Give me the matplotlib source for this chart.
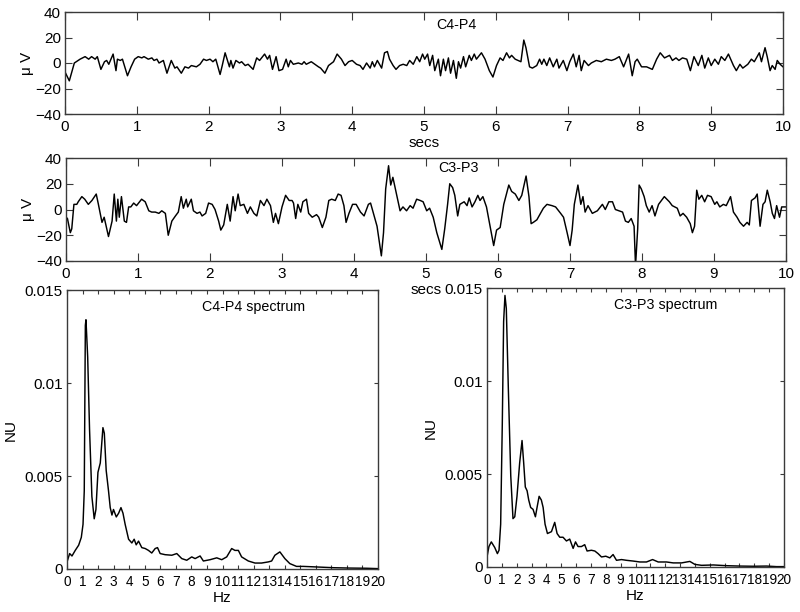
import matplotlib
matplotlib.use("Agg")
import matplotlib.pyplot as plt

plt.rcParams['font.family'] = ['Liberation Sans', 'DejaVu Sans']

# ---------------- data ----------------
c4_t = [0, 0.06, 0.13, 0.21, 0.28, 0.33, 0.37, 0.42, 0.45, 0.5, 0.55, 0.58, 0.61, 0.67, 0.71, 0.73, 0.77, 0.8,
        0.87, 0.92, 0.97, 1.02, 1.07, 1.1, 1.16, 1.21, 1.24, 1.28, 1.31, 1.37, 1.42, 1.48, 1.53, 1.56, 1.62, 1.67,
        1.72, 1.76, 1.83, 1.88, 1.93, 1.97, 2.02, 2.06, 2.1, 2.16, 2.19, 2.23, 2.29, 2.31, 2.34, 2.38, 2.43, 2.46,
        2.51, 2.55, 2.62, 2.67, 2.71, 2.78, 2.82, 2.85, 2.89, 2.94, 2.98, 3.03, 3.08, 3.11, 3.14, 3.18, 3.25, 3.3,
        3.33, 3.36, 3.43, 3.48, 3.53, 3.56, 3.62, 3.67, 3.74, 3.79, 3.85, 3.9, 3.95, 4.0, 4.06, 4.11, 4.15, 4.2,
        4.25, 4.28, 4.31, 4.35, 4.41, 4.45, 4.49, 4.52, 4.57, 4.61, 4.66, 4.71, 4.76, 4.8, 4.85, 4.9, 4.94, 4.98,
        5.01, 5.05, 5.08, 5.12, 5.15, 5.2, 5.23, 5.27, 5.3, 5.34, 5.37, 5.41, 5.45, 5.48, 5.51, 5.55, 5.58, 5.63,
        5.66, 5.7, 5.73, 5.8, 5.85, 5.91, 5.96, 6.01, 6.06, 6.1, 6.15, 6.19, 6.22, 6.27, 6.31, 6.35, 6.39, 6.42,
        6.47, 6.51, 6.57, 6.61, 6.64, 6.67, 6.71, 6.75, 6.8, 6.85, 6.88, 6.94, 6.99, 7.03, 7.08, 7.12, 7.16, 7.19,
        7.23, 7.29, 7.33, 7.4, 7.47, 7.54, 7.61, 7.66, 7.72, 7.78, 7.85, 7.9, 7.94, 7.97, 8.03, 8.1, 8.18, 8.24,
        8.29, 8.35, 8.42, 8.46, 8.51, 8.55, 8.6, 8.66, 8.71, 8.76, 8.82, 8.87, 8.91, 8.96, 9.0, 9.05, 9.1, 9.14,
        9.19, 9.24, 9.31, 9.35, 9.4, 9.44, 9.51, 9.56, 9.6, 9.67, 9.7, 9.75, 9.78, 9.82, 9.85, 9.89, 9.92, 9.96, 10.0]
c4_v = [-7, -14, 0, 3, 5, 3, 5, 3, 5, -5, 1, 2, -1, 7, -6, 3, 2, 3,
        -10, -3, 3, 5, 4, 5, 3, 4, 2, 3, 0, 2, -8, 2, -4, -3, -8, -3,
        -4, -2, -3, -1, 3, 2, 3, 1, 3, -9, -2, 8, -3, 2, -4, 2, 0, 1,
        -2, -1, -5, 4, 2, 7, 3, 6, -5, 5, -6, -5, 3, -3, 2, -1, 0, -1,
        1, -1, 1, -1, -3, -4, -8, -2, 1, 7, 3, -2, 1, 2, -1, -2, -5, 0,
        -4, 1, -3, 2, -4, 8, 9, 3, -2, -5, -2, -1, -2, 2, -1, 5, 1, 7,
        3, 7, -2, 6, -6, 3, -10, 3, -6, 4, -8, 2, -12, 1, -4, 5, -3, 6,
        2, 7, 3, 8, 3, -6, -11, -2, 4, 2, 8, 4, 6, 3, 2, 1, 18, 12,
        -3, -4, -2, 3, -1, 3, -2, 4, -3, 3, -4, 2, -6, 1, 7, -3, 6, -6,
        2, -2, 0, 2, 1, 3, 2, 3, 5, -3, 7, -10, 1, 3, -3, -3, -5, 3,
        8, 4, 6, 2, 4, 2, 4, 3, -6, 5, -2, 6, -4, 4, -2, 3, -1, 5,
        2, 7, -2, -6, -1, -4, -1, 3, 1, 8, 1, 12, 5, -6, -2, -5, 2, -1, -3]

c3_t = [0, 0.02, 0.06, 0.08, 0.11, 0.15, 0.17, 0.22, 0.26, 0.31, 0.36, 0.42, 0.45, 0.5, 0.53, 0.59, 0.64, 0.67,
        0.7, 0.72, 0.74, 0.77, 0.81, 0.84, 0.87, 0.9, 0.94, 0.98, 1.05, 1.1, 1.15, 1.19, 1.24, 1.29, 1.33, 1.38,
        1.42, 1.47, 1.52, 1.56, 1.6, 1.63, 1.67, 1.69, 1.74, 1.77, 1.82, 1.86, 1.89, 1.94, 1.98, 2.03, 2.07, 2.12,
        2.15, 2.19, 2.24, 2.28, 2.32, 2.35, 2.39, 2.42, 2.47, 2.52, 2.56, 2.61, 2.65, 2.7, 2.75, 2.79, 2.84, 2.88,
        2.91, 2.95, 3.0, 3.05, 3.1, 3.14, 3.16, 3.19, 3.22, 3.26, 3.29, 3.34, 3.37, 3.42, 3.48, 3.51, 3.56, 3.61,
        3.65, 3.69, 3.74, 3.78, 3.82, 3.86, 3.89, 3.93, 3.98, 4.03, 4.09, 4.14, 4.2, 4.23, 4.27, 4.32, 4.36, 4.38,
        4.41, 4.44, 4.48, 4.51, 4.54, 4.59, 4.64, 4.68, 4.73, 4.78, 4.82, 4.87, 4.92, 4.96, 5.01, 5.05, 5.1, 5.15,
        5.22, 5.26, 5.3, 5.33, 5.37, 5.4, 5.44, 5.47, 5.53, 5.57, 5.6, 5.64, 5.68, 5.72, 5.75, 5.79, 5.84, 5.88,
        5.94, 5.98, 6.03, 6.08, 6.15, 6.19, 6.24, 6.29, 6.33, 6.39, 6.43, 6.46, 6.49, 6.54, 6.59, 6.63, 6.68, 6.75,
        6.8, 6.87, 6.91, 6.96, 7.0, 7.03, 7.06, 7.11, 7.15, 7.18, 7.21, 7.25, 7.31, 7.38, 7.45, 7.49, 7.54, 7.59,
        7.63, 7.68, 7.73, 7.77, 7.81, 7.85, 7.89, 7.91, 7.94, 7.96, 7.99, 8.03, 8.06, 8.1, 8.14, 8.18, 8.23, 8.27,
        8.31, 8.38, 8.42, 8.49, 8.53, 8.57, 8.62, 8.67, 8.7, 8.73, 8.76, 8.79, 8.83, 8.87, 8.91, 8.96, 9.01, 9.04,
        9.08, 9.13, 9.17, 9.23, 9.27, 9.32, 9.36, 9.41, 9.46, 9.49, 9.52, 9.57, 9.6, 9.64, 9.68, 9.71, 9.74, 9.78,
        9.81, 9.84, 9.87, 9.91, 9.94, 10.0]
c3_v = [-6, -7, -18, -15, 4, 4, 6, 10, 8, 4, 7, 12, 4, -10, -6, -21, -9, 12,
        -9, 8, -6, 10, -9, -10, 2, 2, 5, 3, 8, 6, -1, -2, -2, -3, -1, -3,
        -20, -9, -5, -2, 10, 1, 8, 2, 8, -1, -3, -2, -5, -3, 5, 4, 0, -9,
        -16, -12, 4, -9, 10, -1, 12, 3, 4, -3, 2, -3, -5, 7, 3, 8, 3, -10,
        -3, -11, 2, 11, 7, 7, 5, -7, 4, -2, 6, 8, -3, -6, -4, -6, -14, -6,
        7, 8, 7, 12, 11, 3, -10, -3, 4, 4, -2, -5, 4, 5, -3, -13, -28, -36,
        -18, 16, 34, 19, 25, 12, -1, 2, -1, 3, 1, 8, 7, 6, -1, 1, -6, -18,
        -31, -15, 4, 20, 17, 11, -5, 4, 6, 3, 9, 2, 6, 11, 7, 10, 2, -10,
        -28, -16, -14, 4, 19, 14, 12, 7, 11, 26, 10, -11, -10, -8, -3, 1, 4, 3,
        2, -3, -6, -18, -28, -16, 4, 19, 4, 10, -2, 3, -3, -1, 4, 0, 6, 6,
        0, -1, -2, -9, -10, -7, -13, -44, -15, 19, 16, 10, 3, -2, 3, -5, 4, 7,
        10, 6, 3, 1, -5, -3, -6, -11, -18, -13, 15, 8, 11, 6, 11, 10, 4, 6,
        2, 4, 3, 10, -2, -6, -10, -13, -10, -12, 7, 9, 12, -13, 4, 6, 15, 6,
        -3, -7, 3, -6, 2, 2]

c4_f = [0, 0.17, 0.32, 0.53, 0.75, 0.92, 1.03, 1.11, 1.18, 1.22, 1.33, 1.45, 1.6, 1.75, 1.86, 1.99, 2.14, 2.31,
        2.4, 2.52, 2.67, 2.78, 2.89, 2.99, 3.17, 3.32, 3.47, 3.6, 3.74, 3.96, 4.17, 4.32, 4.45, 4.6, 4.81, 5.03,
        5.24, 5.45, 5.67, 5.82, 5.99, 6.31, 6.74, 7.06, 7.38, 7.7, 8.02, 8.24, 8.56, 8.77, 9.2, 9.63, 9.95, 10.27,
        10.59, 10.8, 11.02, 11.23, 11.66, 12.09, 12.51, 12.94, 13.16, 13.37, 13.69, 14.01, 14.33, 14.76, 15.19,
        16.04, 17.11, 18.18, 19.25, 20]
c4_p = [0.00038, 0.00083, 0.0007, 0.001, 0.00128, 0.0017, 0.0024, 0.0042, 0.0131, 0.0134, 0.0114, 0.0075,
        0.0039, 0.0027, 0.0032, 0.0052, 0.0057, 0.0076, 0.0073, 0.0053, 0.0042, 0.0033, 0.0029, 0.0032, 0.0028,
        0.003, 0.0033, 0.003, 0.0024, 0.0016, 0.0014, 0.0016, 0.0013, 0.0015, 0.00115, 0.0011, 0.001, 0.00086,
        0.0011, 0.00115, 0.00083, 0.00077, 0.00074, 0.00083, 0.00056, 0.00047, 0.00065, 0.00056, 0.0007, 0.00043,
        0.0005, 0.0006, 0.0005, 0.00065, 0.0011, 0.001, 0.001, 0.00065, 0.00043, 0.00032, 0.00032, 0.00038,
        0.00043, 0.00074, 0.00092, 0.00056, 0.00029, 0.00014, 0.00014, 0.00011, 0.00007, 0.00005, 0.00004, 0.00002]

c3_f = [0, 0.13, 0.29, 0.52, 0.7, 0.81, 0.92, 1.03, 1.12, 1.21, 1.3, 1.44, 1.6, 1.75, 1.87, 2.02, 2.2, 2.36,
        2.47, 2.58, 2.7, 2.81, 2.94, 3.1, 3.26, 3.37, 3.51, 3.66, 3.78, 3.91, 4.07, 4.34, 4.56, 4.72, 4.9, 5.12,
        5.35, 5.57, 5.8, 5.96, 6.13, 6.36, 6.58, 6.74, 7.03, 7.26, 7.48, 7.71, 8.0, 8.27, 8.49, 8.72, 9.06, 9.39,
        9.84, 10.29, 10.74, 11.15, 11.53, 12.09, 12.54, 13.1, 13.66, 14.0, 14.45, 15.24, 16.13, 17.03, 17.93,
        18.83, 19.5, 20]
c3_p = [0.00054, 0.0011, 0.00135, 0.00105, 0.00072, 0.0009, 0.0023, 0.0077, 0.0132, 0.0146, 0.0139, 0.0095,
        0.0049, 0.0026, 0.0027, 0.0038, 0.0056, 0.0068, 0.0056, 0.0043, 0.0041, 0.0036, 0.0032, 0.0031, 0.0027,
        0.0032, 0.0038, 0.0036, 0.0032, 0.0023, 0.0018, 0.0019, 0.0024, 0.0018, 0.0016, 0.0016, 0.0014, 0.0015,
        0.001, 0.00135, 0.0011, 0.0011, 0.0012, 0.00086, 0.0009, 0.00086, 0.00072, 0.00054, 0.00058, 0.00049,
        0.00067, 0.00036, 0.0004, 0.00036, 0.00032, 0.00027, 0.00027, 0.0004, 0.00027, 0.00027, 0.00022, 0.00022,
        0.0003, 0.00014, 0.00009, 0.00011, 0.00007, 0.00005, 0.00004, 0.00005, 0.00002, 0.00002]

trace_yticks = [-40, -20, 0, 20, 40]
time_ticks = list(range(0, 11))
freq_ticks = list(range(0, 21))
spec_yticks = [0, 0.005, 0.01, 0.015]
spec_yticklabels = ['0', '0.005', '0.01', '0.015']

# ---------------- figure ----------------
W, H = 800, 612
fig = plt.figure(figsize=(W / 100, H / 100), dpi=100)


def px_axes(l, t, r, b):
    return fig.add_axes([l / W, 1 - b / H, (r - l) / W, (b - t) / H])


FS = 11
FT = 10.3
FX = 9.8
spine_col = '#3a3a3a'
LW = 1.05


def style(ax, xlen=5, ylen=5, xsize=FS):
    for s in ax.spines.values():
        s.set_color(spine_col)
        s.set_linewidth(1.0)
    ax.tick_params(direction='in', top=True, right=True, labelsize=FS, colors='black', width=0.8)
    ax.tick_params(axis='x', length=xlen, pad=4, color=spine_col, labelsize=xsize)
    ax.tick_params(axis='y', length=ylen, pad=3, color=spine_col)


ax1 = px_axes(65, 12, 783, 114)
ax1.plot(c4_t, c4_v, color='black', lw=LW)
ax1.set_xlim(0, 10)
ax1.set_ylim(-40, 40)
ax1.set_xticks(time_ticks)
ax1.set_yticks(trace_yticks)
style(ax1, 6, 5)
ax1.set_xlabel('secs', fontsize=FS, labelpad=2)
ax1.set_ylabel('\u03bc V', fontsize=FS, labelpad=1)
ax1.text(0.545, 0.87, 'C4-P4', transform=ax1.transAxes, ha='center', va='center', fontsize=FT)

ax2 = px_axes(66, 158, 786, 261)
ax2.plot(c3_t, c3_v, color='black', lw=LW)
ax2.set_xlim(0, 10)
ax2.set_ylim(-40, 40)
ax2.set_xticks(time_ticks)
ax2.set_yticks(trace_yticks)
style(ax2, 6, 5)
ax2.set_xlabel('secs', fontsize=FS, labelpad=2)
ax2.set_ylabel('\u03bc V', fontsize=FS, labelpad=1)
ax2.text(0.545, 0.9, 'C3-P3', transform=ax2.transAxes, ha='center', va='center', fontsize=FT)

ax3 = px_axes(67, 290, 378, 569)
ax3.plot(c4_f, c4_p, color='black', lw=LW)
ax3.set_xlim(0, 20)
ax3.set_ylim(0, 0.015)
ax3.set_xticks(freq_ticks)
ax3.set_yticks(spec_yticks)
ax3.set_yticklabels(spec_yticklabels)
style(ax3, 3, 3, FX)
ax3.set_xlabel('Hz', fontsize=FS, labelpad=2)
ax3.set_ylabel('NU', fontsize=FS, labelpad=5)
ax3.text(0.6, 0.94, 'C4-P4 spectrum', transform=ax3.transAxes, ha='center', va='center', fontsize=FT)

ax4 = px_axes(487, 288, 784, 567)
ax4.plot(c3_f, c3_p, color='black', lw=LW)
ax4.set_xlim(0, 20)
ax4.set_ylim(0, 0.015)
ax4.set_xticks(freq_ticks)
ax4.set_yticks(spec_yticks)
ax4.set_yticklabels(spec_yticklabels)
style(ax4, 3, 3, FX)
ax4.set_xlabel('Hz', fontsize=FS, labelpad=2)
ax4.set_ylabel('NU', fontsize=FS, labelpad=5)
ax4.text(0.6, 0.94, 'C3-P3 spectrum', transform=ax4.transAxes, ha='center', va='center', fontsize=FT)

fig.savefig('out.png', dpi=100)
